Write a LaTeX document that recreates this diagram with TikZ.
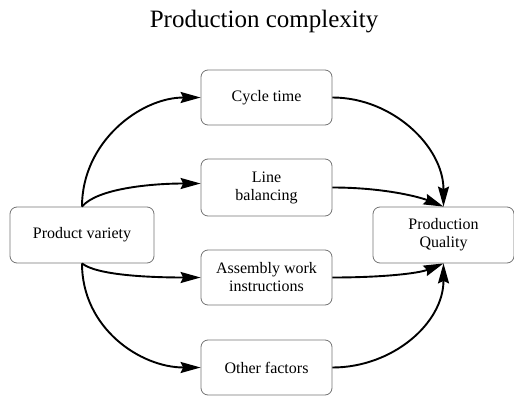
\documentclass[tikz,border=0pt]{standalone}
\usepackage{fontspec}
\setmainfont{Liberation Serif}
\usetikzlibrary{arrows.meta}
\begin{document}
\begin{tikzpicture}[x=1pt,y=1pt,
  box/.style={draw=black!55, line width=0.8pt, rounded corners=7pt, align=center,
    inner sep=0pt, font=\fontsize{16}{18}\selectfont},
  link/.style={line width=1.9pt, -{Stealth[length=20pt,width=11pt,inset=2.5pt]}}]
\useasboundingbox (0,0) rectangle (514,-396);
\node[anchor=base, font=\fontsize{25}{28}\selectfont] (title) at (264,-28) {Production complexity};
\node[box, minimum width=144pt, minimum height=56pt] (pv) at (82,-235) {Product variety};
\node[box, minimum width=131pt, minimum height=55pt] (ct) at (266.5,-97.5) {Cycle time};
\node[box, minimum width=131pt, minimum height=57pt] (lb) at (266.5,-187.5) {Line\\balancing};
\node[box, minimum width=131pt, minimum height=55pt] (aw) at (266.5,-277.5) {Assembly work\\instructions};
\node[box, minimum width=131pt, minimum height=55pt] (of) at (266.5,-367.5) {Other factors};
\node[box, minimum width=141pt, minimum height=56pt] (pq) at (443.5,-235) {Production\\Quality};
\draw[link] (pv.north) .. controls +(0,65) and +(-60,0) .. (ct.west);
\draw[link] (pv.north) .. controls +(15,18) and +(-50,0) .. ([yshift=4pt]lb.west);
\draw[link] (pv.south) .. controls +(15,-12) and +(-50,0) .. (aw.west);
\draw[link] (pv.south) .. controls +(0,-65) and +(-60,0) .. (of.west);
\draw[link] (ct.east) .. controls +(60,0) and +(0,60) .. (pq.north);
\draw[link] (lb.east) .. controls +(50,0) and +(-25,10) .. (pq.north);
\draw[link] (aw.east) .. controls +(50,0) and +(-25,-10) .. (pq.south);
\draw[link] (of.east) .. controls +(60,0) and +(0,-60) .. (pq.south);
\end{tikzpicture}
\end{document}
